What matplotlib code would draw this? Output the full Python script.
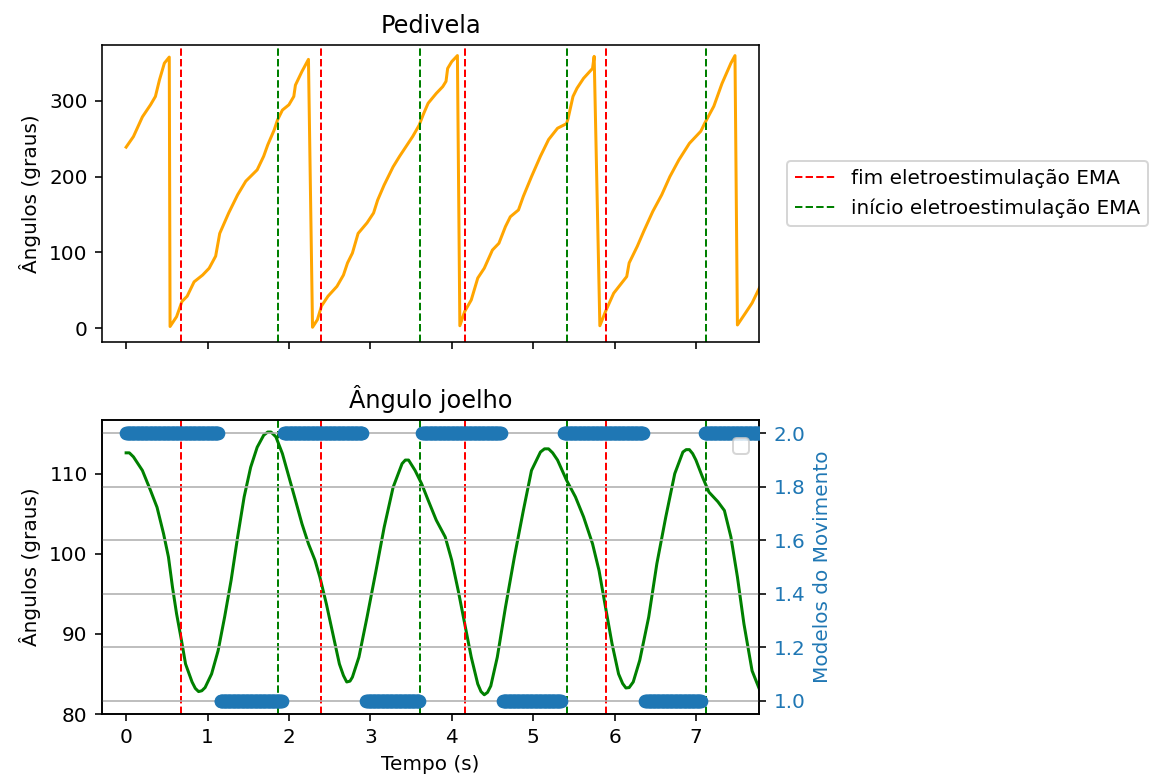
import numpy as np
import matplotlib
matplotlib.use("Agg")
import matplotlib.pyplot as plt

# ---- data ----
ped_t = [0.0, 0.09, 0.20, 0.30, 0.36, 0.41, 0.47, 0.53, 0.54, 0.62, 0.686, 0.75, 0.835, 0.94, 1.02, 1.10, 1.15,
         1.26, 1.37, 1.47, 1.61, 1.69, 1.74, 1.82, 1.86, 1.92, 2.00, 2.06, 2.08, 2.16, 2.24, 2.29,
         2.35, 2.40, 2.48, 2.59, 2.67, 2.72, 2.78, 2.85, 2.96, 3.04, 3.09, 3.17, 3.28, 3.36, 3.44, 3.52,
         3.60, 3.65, 3.71, 3.81, 3.89, 3.93, 3.95, 4.00, 4.07, 4.10,
         4.16, 4.24, 4.32, 4.40, 4.50, 4.58, 4.66, 4.72, 4.82, 4.88, 4.98, 5.09, 5.19, 5.30, 5.41, 5.43,
         5.49, 5.54, 5.62, 5.73, 5.75, 5.82,
         5.89, 5.99, 6.15, 6.18, 6.28, 6.36, 6.47, 6.58, 6.68, 6.79, 6.92, 7.06, 7.11, 7.22, 7.32, 7.43,
         7.48, 7.51, 7.61, 7.69, 7.78]
ped_v = [239, 253, 279, 295, 306, 328, 350, 358, 2, 15, 35, 42, 61, 70, 79, 95, 125,
         152, 176, 194, 209, 227, 242, 262, 275, 288, 295, 306, 321, 339, 355, 1,
         11, 29, 42, 55, 70, 86, 99, 125, 139, 152, 169, 189, 213, 227, 240, 253,
         268, 282, 297, 310, 319, 326, 343, 352, 360, 3,
         22, 37, 66, 79, 103, 112, 134, 147, 156, 174, 200, 227, 249, 264, 270, 277,
         306, 317, 330, 343, 359, 3,
         22, 46, 68, 86, 108, 128, 154, 176, 200, 222, 244, 260, 271, 293, 323, 350,
         360, 4, 20, 33, 53]

knee_t = [0.0, 0.04, 0.09, 0.20, 0.30, 0.38, 0.46, 0.52, 0.57, 0.62, 0.68, 0.73, 0.81, 0.85, 0.89, 0.93, 0.97, 1.05,
          1.13, 1.21, 1.29, 1.37, 1.45, 1.53, 1.61, 1.69, 1.74, 1.78, 1.84, 1.92, 2.00, 2.08, 2.16, 2.24,
          2.32, 2.38, 2.46, 2.54, 2.62, 2.67, 2.71, 2.75, 2.78, 2.86, 2.96, 3.07, 3.17, 3.28, 3.39, 3.43, 3.47, 3.55,
          3.63, 3.71, 3.81, 3.92, 4.00, 4.08, 4.16, 4.24, 4.32, 4.36, 4.40, 4.44, 4.48, 4.56, 4.66, 4.77, 4.88,
          4.98, 5.09, 5.14, 5.19, 5.24, 5.30, 5.41, 5.52, 5.62, 5.73, 5.81, 5.89, 5.97, 6.05, 6.10, 6.14, 6.18, 6.23, 6.31,
          6.42, 6.52, 6.63, 6.74, 6.84, 6.88, 6.92, 6.96, 7.00, 7.08, 7.16, 7.27, 7.35, 7.43, 7.51, 7.59, 7.69, 7.78]
knee_v = [112.6, 112.6, 112.1, 110.4, 107.9, 105.8, 102.5, 99.6, 95.8, 92.5, 89.2, 86.25, 84.0, 83.2, 82.8, 82.9, 83.3, 85.0,
          87.9, 92.1, 96.7, 102.1, 107.1, 110.8, 113.3, 114.8, 115.2, 115.2, 114.6, 112.5, 109.6, 106.7, 103.75, 101.25,
          99.2, 97.1, 93.75, 90.0, 86.25, 84.8, 84.0, 84.1, 84.6, 87.1, 92.1, 97.9, 103.3, 108.3, 111.25, 111.7, 111.7, 110.4,
          108.75, 106.7, 104.2, 102.1, 99.2, 95.4, 91.25, 87.1, 83.75, 82.8, 82.4, 82.7, 83.5, 87.1, 93.3, 99.6, 105.4,
          110.4, 112.7, 113.1, 113.1, 112.6, 111.7, 109.2, 107.1, 104.6, 101.25, 97.9, 93.3, 88.75, 85.0, 83.8, 83.25, 83.3, 84.0, 86.7,
          92.1, 98.75, 104.6, 110.0, 112.7, 113.0, 113.0, 112.5, 111.7, 109.6, 107.7, 106.5, 105.4, 102.1, 97.1, 91.25, 85.4, 83.1]

# movement model segments: (start, end, level)
model_start = [0.00, 1.16, 1.94, 2.95, 3.64, 4.63, 5.38, 6.38, 7.11]
model_end = [1.13, 1.91, 2.90, 3.60, 4.60, 5.34, 6.35, 7.06, 7.78]
model_level = [2, 1, 2, 1, 2, 1, 2, 1, 2]

fim_ema = [0.675, 2.39, 4.16, 5.90]
inicio_ema = [1.865, 3.607, 5.42, 7.12]

# sample the segment levels on the recording's time base
model_t = []
model_v = []
for s, e, lv in zip(model_start, model_end, model_level):
    tt = np.arange(s, e + 1e-9, 0.01)
    model_t.extend(tt)
    model_v.extend([lv] * len(tt))

# ---- figure ----
W, H = 1168, 783
DPI = 144
fig = plt.figure(figsize=(W / DPI, H / DPI), dpi=DPI)
ax1 = fig.add_axes([101.7 / W, 1 - 342 / H, (759.4 - 101.7) / W, (342 - 45) / H])
ax2 = fig.add_axes([101.7 / W, 1 - 714 / H, (759.4 - 101.7) / W, (714 - 420) / H], sharex=ax1)

ax1.plot(ped_t, ped_v, color='orange', lw=1.5)
for i, x in enumerate(fim_ema):
    ax1.axvline(x, color='red', ls='--', lw=1, label='fim eletroestimulação EMA' if i == 0 else None)
for i, x in enumerate(inicio_ema):
    ax1.axvline(x, color='green', ls='--', lw=1, label='início eletroestimulação EMA' if i == 0 else None)
ax1.set_title('Pedivela', fontsize=12)
ax1.set_ylabel('Ângulos (graus)')
ax1.set_ylim(-18.5, 374)
ax1.set_yticks([0, 100, 200, 300])
ax1.tick_params(axis='x', labelbottom=False)
ax1.legend(loc='center left', bbox_to_anchor=(1.027, 0.5))

ax2.plot(knee_t, knee_v, color='green', lw=1.5)
for x in fim_ema:
    ax2.axvline(x, color='red', ls='--', lw=1)
for x in inicio_ema:
    ax2.axvline(x, color='green', ls='--', lw=1)
ax2.set_title('Ângulo joelho', fontsize=12)
ax2.set_ylabel('Ângulos (graus)')
ax2.set_xlabel('Tempo (s)')
ax2.set_ylim(80, 116.7)
ax2.set_yticks([80, 90, 100, 110])
ax2.set_xlim(-0.3, 7.78)
ax2.set_xticks(range(0, 8))

ax3 = ax2.twinx()
ax3.scatter(model_t, model_v, s=34, color='tab:blue', zorder=3)
ax3.set_ylim(0.95, 2.05)
ax3.set_yticks([1.0, 1.2, 1.4, 1.6, 1.8, 2.0])
ax3.set_ylabel('Modelos do Movimento', color='tab:blue')
ax3.tick_params(axis='y', labelcolor='tab:blue')
ax3.grid(True)
ax3.legend(loc='upper right', bbox_to_anchor=(1.0, 0.972))

fig.savefig('out.png', dpi=DPI)
